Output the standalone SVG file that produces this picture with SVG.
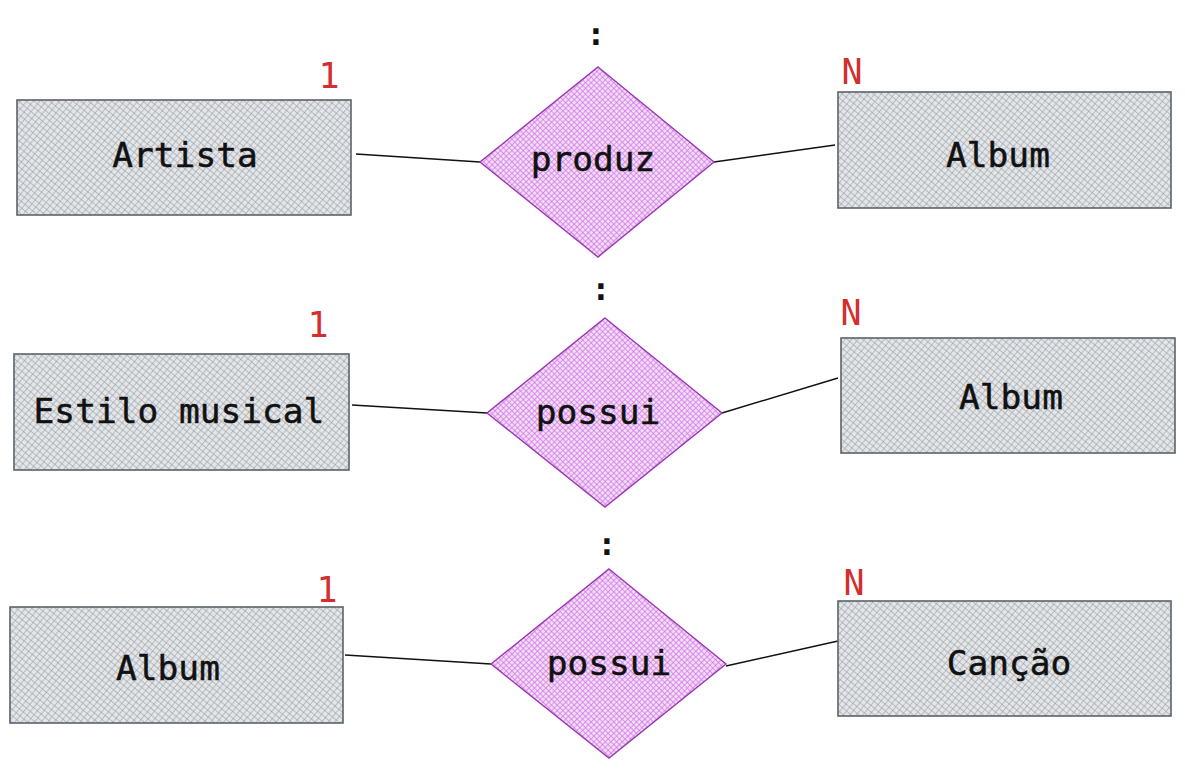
<svg xmlns="http://www.w3.org/2000/svg" width="1185" height="769" viewBox="0 0 1185 769">
<defs>
<pattern id="hg" width="5" height="5" patternUnits="userSpaceOnUse" patternTransform="rotate(40)">
<rect width="5" height="5" fill="#e3e5e8"/>
<line x1="0" y1="0" x2="0" y2="5" stroke="#9aa0a6" stroke-width="1.2"/>
<line x1="0" y1="0" x2="5" y2="0" stroke="#9aa0a6" stroke-width="1.2"/>
</pattern>
<pattern id="hp" width="4" height="4" patternUnits="userSpaceOnUse" patternTransform="rotate(45)">
<rect width="4" height="4" fill="#f3dbf7"/>
<line x1="0" y1="0" x2="0" y2="4" stroke="#cc6de0" stroke-width="1.3"/>
<line x1="0" y1="0" x2="4" y2="0" stroke="#cc6de0" stroke-width="1.3"/>
</pattern>
</defs>
<style>
.ent{fill:url(#hg);stroke:#5c636a;stroke-width:1.6}
.rel{fill:url(#hp);stroke:#9c36b5;stroke-width:1.4}
.t{font-family:"DejaVu Sans Mono","Liberation Mono",monospace;font-size:34.5px;fill:#111;stroke:#111;stroke-width:0.5;text-anchor:middle;dominant-baseline:central}
.c{font-family:"DejaVu Sans Mono","Liberation Mono",monospace;font-size:35px;fill:#d32f2f;text-anchor:middle}
.col{font-family:"DejaVu Sans Mono","Liberation Mono",monospace;font-size:32px;font-weight:bold;fill:#111;text-anchor:middle}
.ln{stroke:#111;stroke-width:1.4;fill:none}
</style>
<rect width="1185" height="769" fill="#fff"/>
<g id="connectors">
<line class="ln" x1="356" y1="154" x2="480" y2="162"/>
<line class="ln" x1="714" y1="162" x2="835" y2="145"/>
<line class="ln" x1="352" y1="405" x2="487" y2="413"/>
<line class="ln" x1="722" y1="413" x2="838" y2="378"/>
<line class="ln" x1="345" y1="655" x2="491" y2="664"/>
<line class="ln" x1="726" y1="666" x2="838" y2="641"/>
</g>
<g id="artista">
<rect class="ent" x="17" y="100" width="334" height="115"/>
<text class="t" x="185" y="155">Artista</text>
</g>
<g id="produz">
<polygon class="rel" points="598,67 714,162 598,257 480,162"/>
<text class="t" x="593" y="159">produz</text>
</g>
<g id="album1">
<rect class="ent" x="838" y="92" width="333" height="116"/>
<text class="t" x="998" y="155">Album</text>
</g>
<g id="estilo">
<rect class="ent" x="14" y="354" width="335" height="116"/>
<text class="t" x="179" y="411">Estilo musical</text>
</g>
<g id="possui1">
<polygon class="rel" points="605,318 722,413 605,507 487,413"/>
<text class="t" x="598" y="412">possui</text>
</g>
<g id="album2">
<rect class="ent" x="841" y="338" width="334" height="115"/>
<text class="t" x="1011" y="397">Album</text>
</g>
<g id="album3">
<rect class="ent" x="10" y="607" width="333" height="116"/>
<text class="t" x="168" y="668">Album</text>
</g>
<g id="possui2">
<polygon class="rel" points="609,569 726,664 609,758 491,664"/>
<text class="t" x="609" y="663">possui</text>
</g>
<g id="cancao">
<rect class="ent" x="838" y="601" width="333" height="115"/>
<text class="t" x="1009" y="663">Canção</text>
</g>
<g id="labels">
<text class="c" x="329" y="88">1</text>
<text class="c" x="852" y="84">N</text>
<text class="c" x="318" y="337">1</text>
<text class="c" x="851" y="325">N</text>
<text class="c" x="327" y="602">1</text>
<text class="c" x="854" y="595">N</text>
<text class="col" x="596" y="45">:</text>
<text class="col" x="601" y="300">:</text>
<text class="col" x="607" y="555">:</text>
</g>
</svg>
